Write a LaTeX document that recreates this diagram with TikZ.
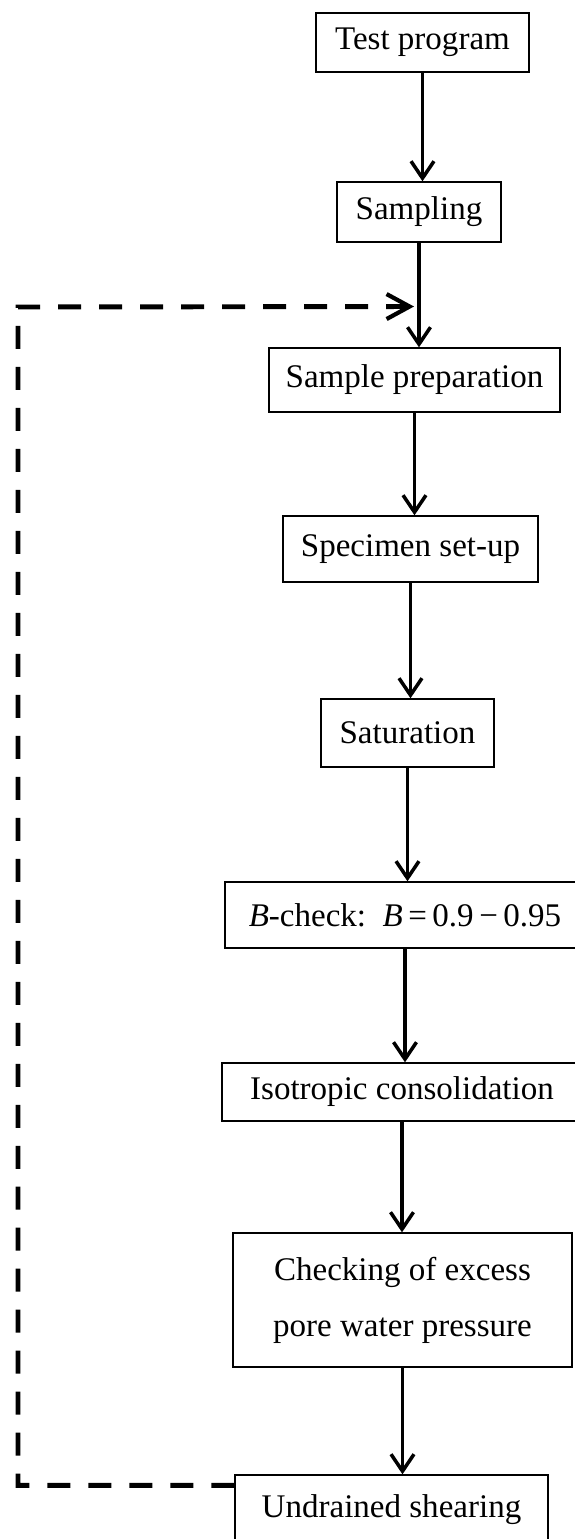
\documentclass[tikz,border=0pt]{standalone}
\usepackage{fontspec}
\setmainfont{Liberation Serif}
\usetikzlibrary{arrows.meta,calc}
\tikzset{
  stepbox/.style={
    draw=black,
    line width=0.8pt,
    inner sep=0pt,
    align=center,
    font=\fontsize{18.8}{32}\selectfont
  },
  flow/.style={
    -{Straight Barb[length=0.34cm,width=0.46cm,line width=2pt]},
    line width=2.2pt
  },
  feedback/.style={
    -{Straight Barb[length=0.46cm,width=0.5cm,line width=2.4pt]},
    line width=2.8pt,
    dash pattern=on 0.46cm off 0.36cm
  }
}

\begin{document}
\begin{tikzpicture}[x=0.02cm, y=0.02cm]
\useasboundingbox (0,0) rectangle (575,-1539);
\clip (0,0) rectangle (575,-1539);
% process chain
\node[stepbox, minimum width=4.26cm, minimum height=1.18cm] (test) at (422.5,-42.5) {Test program};
\node[stepbox, minimum width=3.28cm, minimum height=1.2cm] (sampling) at (419,-212) {Sampling};
\node[stepbox, minimum width=5.82cm, minimum height=1.28cm] (prep) at (414.5,-380) {Sample preparation};
\node[stepbox, minimum width=5.1cm, minimum height=1.32cm] (setup) at (410.5,-549) {Specimen set-up};
\node[stepbox, minimum width=3.46cm, minimum height=1.36cm] (saturation) at (407.5,-733) {Saturation};
\node[stepbox, minimum width=7.2cm, minimum height=1.32cm] (bcheck) at (405,-915)
  {\textit{B}-check:\enspace\textit{B}\,=\,0.9\,−\,0.95};
\node[stepbox, minimum width=7.2cm, minimum height=1.16cm] (consol) at (402,-1092) {Isotropic consolidation};
\node[stepbox, minimum width=6.78cm, minimum height=2.68cm] (excess) at (402.5,-1300)
  {Checking of excess\\pore water pressure};
\node[stepbox, minimum width=6.26cm, minimum height=1.4cm] (shearing) at (391.5,-1510) {Undrained shearing};
\draw[flow] (test.south) -- (test.south |- sampling.north);
\draw[flow] (sampling.south) -- (sampling.south |- prep.north);
\draw[flow] (prep.south) -- (prep.south |- setup.north);
\draw[flow] (setup.south) -- (setup.south |- saturation.north);
\draw[flow] (saturation.south) -- (saturation.south |- bcheck.north);
\draw[flow] (bcheck.south) -- (bcheck.south |- consol.north);
\draw[flow] (consol.south) -- (consol.south |- excess.north);
\draw[flow] (excess.south) -- (excess.south |- shearing.north);
% repeat loop back to preparation
\coordinate (merge) at ($(sampling.south)!0.61!(sampling.south |- prep.north)$);
\coordinate (corner) at (18,-307);
\draw[feedback] ($(shearing.north west)+(0,-11)$) -| (corner) -- ([xshift=-0.1cm]merge);
\end{tikzpicture}
\end{document}
